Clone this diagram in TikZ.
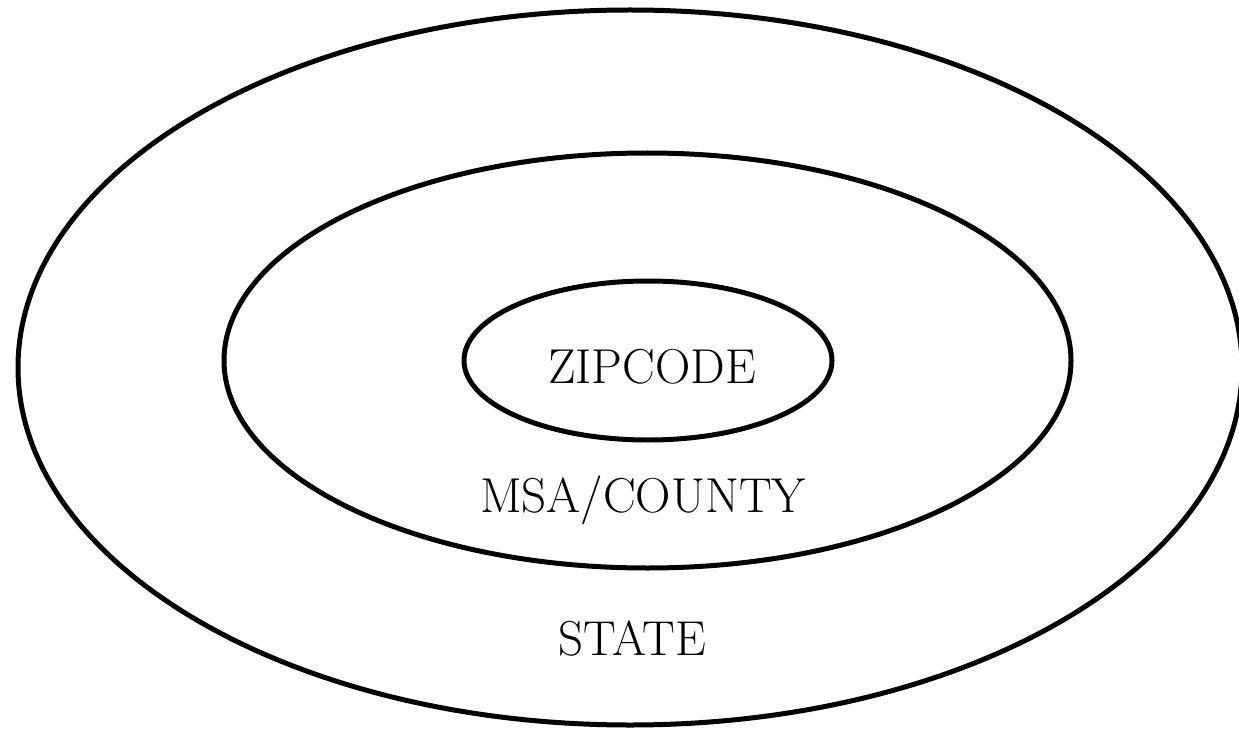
\documentclass[tikz,border=0pt]{standalone}
\usepackage{fontspec}
\begin{document}
\begin{tikzpicture}[x=1pt,y=-1pt,
  ring/.style={draw=black,line width=5pt},
  lbl/.style={anchor=base,inner sep=0pt,font=\fontsize{49}{58}\selectfont}]
\useasboundingbox (0,0) rectangle (1239,730);
\draw[ring] (630,367.5) ellipse [x radius=612, y radius=357.5];
\draw[ring] (647.5,360.5) ellipse [x radius=423.5, y radius=207.5];
\draw[ring] (648,360.5) ellipse [x radius=184, y radius=79.5];
\node[lbl] (zip) at (652,383) {ZIPCODE};
\node[lbl] (msa) at (643,512) {MSA/COUNTY};
\node[lbl] (state) at (632,655) {STATE};
\end{tikzpicture}
\end{document}
